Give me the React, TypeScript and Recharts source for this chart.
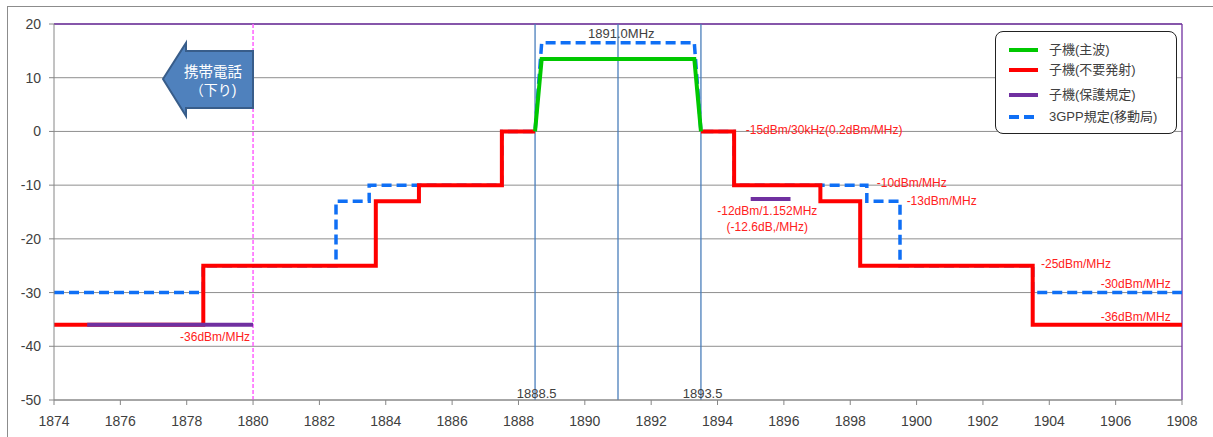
import { ComposedChart, Line, Scatter, XAxis, YAxis, CartesianGrid, ReferenceLine, Legend } from 'recharts';

const xTicks = [1874, 1876, 1878, 1880, 1882, 1884, 1886, 1888, 1890, 1892, 1894, 1896, 1898, 1900, 1902, 1904, 1906, 1908];
const yTicks = [-50, -40, -30, -20, -10, 0, 10, 20];

// 子機(不要発射) step edges (MHz) and levels (dBm/MHz)
const spurLeftEdges = [1874, 1878.5, 1883.7, 1885, 1887.5, 1888.5];
const spurLeftLevels = [-36, -25, -13, -10, 0];
const spurRightEdges = [1893.5, 1894.5, 1897.1, 1898.3, 1903.5, 1908];
const spurRightLevels = [0, -10, -13, -25, -36];

// 子機(主波)
const mainFreq = [1888.5, 1888.7, 1893.3, 1893.5];
const mainLevel = [0, 13.5, 13.5, 0];

// 3GPP規定(移動局)
const gppLeftEdges = [1874, 1878.5, 1882.5, 1883.5, 1887.5, 1888.5];
const gppLeftLevels = [-30, -25, -13, -10, 0];
const gppTopFreq = [1888.7, 1893.3];
const gppTopLevel = [16.5, 16.5];
const gppRightEdges = [1893.5, 1894.5, 1898.5, 1899.5, 1903.5, 1908];
const gppRightLevels = [0, -10, -13, -25, -30];

// 子機(保護規定)
const protLowFreq = [1875, 1880];
const protLowLevel = [-36, -36];
const protMidFreq = [1895, 1896.2];
const protMidLevel = [-12.6, -12.6];

const bandEdges = [1888.5, 1891, 1893.5];
const bandLimit = 1880;

// annotations, anchored at (MHz, dB)
const redNotes = [
  { f: 1894.85, v: 0.2, text: '-15dBm/30kHz(0.2dBm/MHz)' },
  { f: 1898.8, v: -9.6, text: '-10dBm/MHz' },
  { f: 1899.7, v: -13, text: '-13dBm/MHz' },
  { f: 1903.75, v: -24.7, text: '-25dBm/MHz' },
  { f: 1905.55, v: -28.4, text: '-30dBm/MHz' },
  { f: 1905.55, v: -34.5, text: '-36dBm/MHz' },
  { f: 1877.8, v: -38.3, text: '-36dBm/MHz' },
];
const redCenterNotes = [
  { f: 1895.5, v: -14.8, text: '-12dBm/1.152MHz' },
  { f: 1895.5, v: -17.8, text: '(-12.6dB,/MHz)' },
];
const freqNotes = [
  { f: 1891.1, v: 18.3, text: '1891.0MHz' },
  { f: 1888.55, v: -48.7, text: '1888.5' },
  { f: 1893.55, v: -48.7, text: '1893.5' },
];

const legendItems = [
  { name: '子機(主波)', color: '#00C800', dash: false },
  { name: '子機(不要発射)', color: '#FF0000', dash: false },
  { name: '子機(保護規定)', color: '#7030A0', dash: false },
  { name: '3GPP規定(移動局)', color: '#0F6FF5', dash: true },
];

const steps = (edges: number[], levels: number[]) =>
  levels.flatMap((v, i) => [
    { f: edges[i], v },
    { f: edges[i + 1], v },
  ]);
const pairs = (fs: number[], vs: number[]) => fs.map((f, i) => ({ f, v: vs[i] }));

const spurLeft = steps(spurLeftEdges, spurLeftLevels);
const spurRight = steps(spurRightEdges, spurRightLevels);
const mainWave = pairs(mainFreq, mainLevel);
const gpp = [...steps(gppLeftEdges, gppLeftLevels), ...pairs(gppTopFreq, gppTopLevel), ...steps(gppRightEdges, gppRightLevels)];
const protLow = pairs(protLowFreq, protLowLevel);
const protMid = pairs(protMidFreq, protMidLevel);

const FONT = "'Liberation Sans', Arial, 'Noto Sans CJK JP', sans-serif";
const JP_FONT = "'Liberation Sans', 'Noto Sans CJK JP', sans-serif";

const noteShape = (anchor: 'start' | 'middle', color: string, size: number) => (p: any) => (
  <text x={p.cx} y={p.cy} textAnchor={anchor} dominantBaseline="central" fill={color} fontSize={size} fontFamily={FONT}>
    {p.payload.text}
  </text>
);

function LegendBox() {
  return (
    <div
      style={{
        width: 182,
        height: 103,
        border: '1.5px solid #222',
        borderRadius: 8,
        background: '#fff',
        boxSizing: 'border-box',
        position: 'relative',
        fontFamily: JP_FONT,
        fontSize: 13,
        color: '#404040',
      }}
    >
      {legendItems.map((it, i) => (
        <div key={it.name} style={{ position: 'absolute', left: 13, top: [11, 31, 56, 78][i], display: 'flex', alignItems: 'center' }}>
          <svg width={30} height={14}>
            <line x1={0} x2={29} y1={7} y2={7} stroke={it.color} strokeWidth={4} strokeDasharray={it.dash ? '10 5' : undefined} />
          </svg>
          <span style={{ marginLeft: 10, lineHeight: '14px' }}>{it.name}</span>
        </div>
      ))}
    </div>
  );
}

export default function App() {
  return (
    <div style={{ position: 'absolute', left: 0, top: 0, width: 1213, height: 437, overflow: 'hidden', background: '#fff' }}>
      <div style={{ position: 'absolute', left: 7, top: 6, width: 1300, height: 500, borderTop: '1px solid #8c8c8c', borderLeft: '1px solid #8c8c8c' }} />
      <ComposedChart width={1213} height={437} margin={{ top: 24, right: 31, bottom: 0, left: 0 }} style={{ position: 'absolute', left: 0, top: 0 }}>
        <CartesianGrid vertical={false} stroke="#8E8E8E" strokeWidth={1} />
        <XAxis
          dataKey="f"
          type="number"
          domain={[1874, 1908]}
          ticks={xTicks}
          allowDataOverflow
          height={37}
          stroke="#868686"
          tickSize={5}
          tickMargin={11}
          tick={{ fill: '#404040', fontSize: 14, fontFamily: FONT }}
        />
        <YAxis
          dataKey="v"
          type="number"
          domain={[-50, 20]}
          ticks={yTicks}
          allowDataOverflow
          width={54}
          stroke="#868686"
          tickSize={5}
          tickMargin={8}
          tick={{ fill: '#404040', fontSize: 14, fontFamily: FONT }}
        />
        <ReferenceLine y={20} stroke="#7030A0" strokeWidth={1.3} />
        <ReferenceLine x={1908} stroke="#7030A0" strokeWidth={1.3} />
        <ReferenceLine x={bandLimit} stroke="#FF6BFF" strokeWidth={1.6} strokeDasharray="4 2" />
        {bandEdges.map((x) => (
          <ReferenceLine key={x} x={x} stroke="#4A7EBB" strokeWidth={1.3} />
        ))}
        <Line data={gpp} dataKey="v" stroke="#0F6FF5" strokeWidth={3.5} strokeDasharray="10 5" dot={false} isAnimationActive={false} legendType="none" />
        <Line data={spurLeft} dataKey="v" stroke="#FF0000" strokeWidth={4} dot={false} isAnimationActive={false} legendType="none" />
        <Line data={spurRight} dataKey="v" stroke="#FF0000" strokeWidth={4} dot={false} isAnimationActive={false} legendType="none" />
        <Line data={mainWave} dataKey="v" stroke="#00C800" strokeWidth={4} dot={false} isAnimationActive={false} legendType="none" />
        <Line data={protLow} dataKey="v" stroke="#7030A0" strokeWidth={4} dot={false} isAnimationActive={false} legendType="none" />
        <Line data={protMid} dataKey="v" stroke="#7030A0" strokeWidth={4} dot={false} isAnimationActive={false} legendType="none" />
        <Scatter data={redNotes} dataKey="v" shape={noteShape('start', '#FF2020', 12)} isAnimationActive={false} legendType="none" />
        <Scatter data={redCenterNotes} dataKey="v" shape={noteShape('middle', '#FF2020', 12)} isAnimationActive={false} legendType="none" />
        <Scatter data={freqNotes} dataKey="v" shape={noteShape('middle', '#404040', 13)} isAnimationActive={false} legendType="none" />
        <Legend
          layout="vertical"
          align="center"
          verticalAlign="middle"
          content={() => <LegendBox />}
          wrapperStyle={{ left: 995, top: 31, width: 182, height: 103 }}
        />
      </ComposedChart>
      <svg width={1213} height={437} style={{ position: 'absolute', left: 0, top: 0, pointerEvents: 'none' }}>
        <polygon points="163,79 186,43 186,51 253,51 253,108 186,108 186,116" fill="#4F81BD" stroke="#385D8A" strokeWidth={2} strokeLinejoin="miter" />
        <text x={213} y={72} textAnchor="middle" dominantBaseline="central" fill="#fff" fontSize={14.5} fontFamily={JP_FONT}>携帯電話</text>
        <text x={213} y={90} textAnchor="middle" dominantBaseline="central" fill="#fff" fontSize={14} fontFamily={JP_FONT}>（下り)</text>
      </svg>
    </div>
  );
}
